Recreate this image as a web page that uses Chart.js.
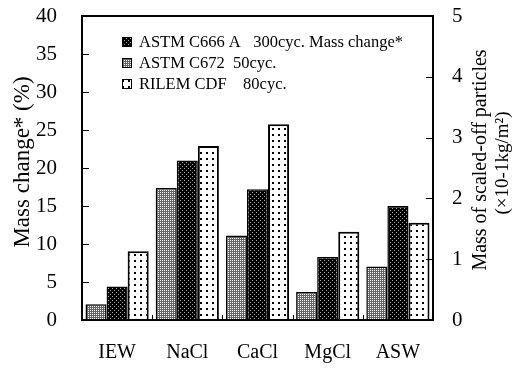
<!DOCTYPE html>
<html>
<head>
<meta charset="utf-8">
<script src="https://cdn.jsdelivr.net/npm/chart.js@4"></script>
<style>
  body { margin: 0; background: #fff; }
  #wrap { width: 526px; height: 368px; position: relative; }
</style>
</head>
<body>
<div id="wrap"><canvas id="chartScaling"></canvas></div>
<script>
const categories = ["IEW", "NaCl", "CaCl", "MgCl", "ASW"];
// left axis, mass change (%)
const massChangeC666 = [4.4, 21.0, 17.2, 8.3, 15.0];
// right axis, mass of scaled-off particles (x10-1 kg/m2)
const scaledC672 = [0.26, 2.17, 1.39, 0.46, 0.88];
const scaledRilem = [1.13, 2.86, 3.22, 1.45, 1.6];
const leftTicks = [0, 5, 10, 15, 20, 25, 30, 35, 40];
const rightTicks = [0, 1, 2, 3, 4, 5];

const serif = "'Liberation Serif', 'Times New Roman', serif";

function makePattern(w, h, bg, dot, dots) {
  const c = document.createElement("canvas");
  c.width = w;
  c.height = h;
  const g = c.getContext("2d");
  g.fillStyle = bg;
  g.fillRect(0, 0, w, h);
  g.fillStyle = dot;
  dots.forEach(d => g.fillRect(d[0], d[1], d[2], d[3]));
  return g.createPattern(c, "repeat");
}

const patC666 = makePattern(4, 4, "#000", "#aaa", [[0, 0, 1, 1], [2, 2, 1, 1]]);
const patC672 = makePattern(2, 2, "#666", "#fff", [[0, 0, 1, 1]]);
const patRilem = makePattern(6, 6, "#fff", "#000", [[2, 2, 2, 2]]);

const legendItems = [
  { text: "ASTM C666 A   300cyc. Mass change*", fill: patC666 },
  { text: "ASTM C672  50cyc.", fill: patC672 },
  { text: "RILEM CDF    80cyc.", fill: patRilem },
];

const extras = {
  id: "extras",
  afterDraw(chart) {
    const c = chart.ctx;
    const a = chart.chartArea;
    const y = chart.scales.y;
    const y2 = chart.scales.y2;
    const x = chart.scales.x;
    c.save();
    c.strokeStyle = "#000";
    // frame
    c.lineWidth = 2;
    c.strokeRect(a.left, a.top, a.right - a.left, a.bottom - a.top);
    // inside ticks
    c.lineWidth = 1;
    leftTicks.forEach(v => {
      const p = Math.round(y.getPixelForValue(v)) + 0.5;
      c.beginPath(); c.moveTo(a.left, p); c.lineTo(a.left + 7, p); c.stroke();
    });
    rightTicks.forEach(v => {
      const p = Math.round(y2.getPixelForValue(v)) + 0.5;
      c.beginPath(); c.moveTo(a.right - 7, p); c.lineTo(a.right, p); c.stroke();
    });
    for (let i = 0; i < categories.length - 1; i++) {
      const p = Math.round((x.getPixelForTick(i) + x.getPixelForTick(i + 1)) / 2) + 0.5;
      c.beginPath(); c.moveTo(p, a.bottom); c.lineTo(p, a.bottom - 5); c.stroke();
    }
    // axis titles
    c.fillStyle = "#000";
    c.font = "23px " + serif;
    c.textAlign = "center";
    c.textBaseline = "middle";
    c.save();
    c.translate(23, 162);
    c.rotate(-Math.PI / 2);
    c.fillText("Mass change* (%)", 0, 0);
    c.restore();
    c.save();
    c.font = "20px " + serif;
    c.translate(481, 160);
    c.rotate(-Math.PI / 2);
    c.fillText("Mass of scaled-off particles", 0, 0);
    c.font = "19px " + serif;
    c.fillText("(×10-1kg/m²)", -3, 22);
    c.restore();
    // legend
    c.font = "16.5px " + serif;
    c.textAlign = "left";
    legendItems.forEach((it, i) => {
      const yy = 42 + i * 21;
      c.fillStyle = it.fill;
      c.fillRect(122, yy - 5, 10, 10);
      c.lineWidth = 1;
      c.strokeRect(122.5, yy - 4.5, 9, 9);
      c.fillStyle = "#000";
      c.fillText(it.text, 139, yy + 1);
    });
    c.restore();
  },
};

const tickFont = { family: serif, size: 21 };

// keep the plot top/bottom fixed, ignore label overhang
function fixVertical(width) {
  return s => {
    s.width = width;
    s.paddingTop = 0;
    s.paddingBottom = 0;
  };
}

new Chart(document.getElementById("chartScaling"), {
  type: "bar",
  data: {
    labels: categories,
    datasets: [
      {
        label: "ASTM C672 50cyc.",
        data: scaledC672,
        yAxisID: "y2",
        backgroundColor: patC672,
        borderColor: "#000",
        borderWidth: 1.5,
      },
      {
        label: "ASTM C666 A 300cyc. Mass change*",
        data: massChangeC666,
        yAxisID: "y",
        backgroundColor: patC666,
        borderColor: "#000",
        borderWidth: 1.5,
      },
      {
        label: "RILEM CDF 80cyc.",
        data: scaledRilem,
        yAxisID: "y2",
        backgroundColor: patRilem,
        borderColor: "#000",
        borderWidth: 2,
      },
    ],
  },
  options: {
    responsive: true,
    maintainAspectRatio: false,
    animation: false,
    layout: { padding: { top: 16 } },
    datasets: { bar: { categoryPercentage: 0.9, barPercentage: 1.0 } },
    plugins: {
      legend: { display: false },
      tooltip: { enabled: false },
    },
    scales: {
      x: {
        grid: { display: false, drawTicks: false },
        border: { display: false },
        ticks: { font: { family: serif, size: 20 }, color: "#000", padding: 21 },
        afterFit: s => { s.height = 48; },
      },
      y: {
        position: "left",
        min: 0,
        max: 40,
        grid: { display: false, drawTicks: false },
        border: { display: false },
        ticks: { stepSize: 5, font: tickFont, color: "#000", padding: 25 },
        afterFit: fixVertical(82),
      },
      y2: {
        position: "right",
        min: 0,
        max: 5,
        grid: { display: false, drawTicks: false },
        border: { display: false },
        ticks: { stepSize: 1, font: tickFont, color: "#000", padding: 19 },
        afterFit: fixVertical(93),
      },
    },
  },
  plugins: [extras],
});
</script>
</body>
</html>
